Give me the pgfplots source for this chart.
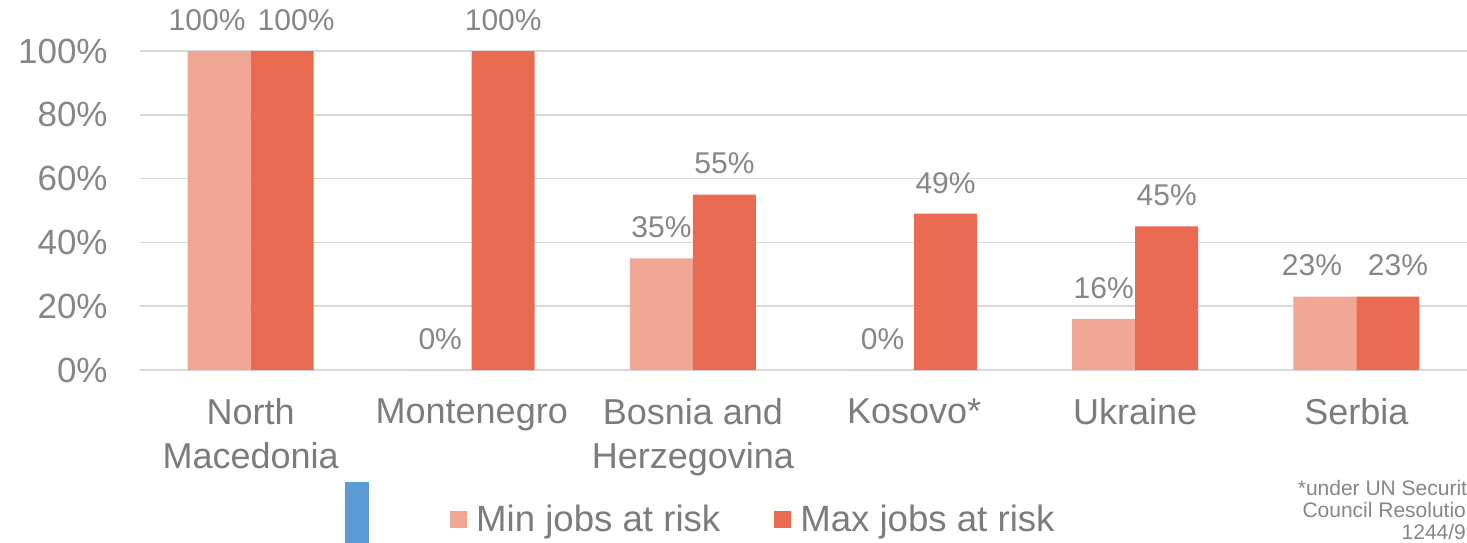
\documentclass[border=0pt]{standalone}
\usepackage{pgfplots}
\pgfplotsset{compat=1.18}
\usepackage{fontspec}
\setmainfont{Liberation Sans}
\definecolor{minc}{HTML}{F0A796}
\definecolor{maxc}{HTML}{E86B52}
\definecolor{gridc}{HTML}{D9D9D9}
\definecolor{txtc}{HTML}{868686}
\definecolor{catc}{HTML}{7C7C7C}
\definecolor{bluec}{HTML}{5B9BD5}
\begin{document}
\begin{tikzpicture}
\useasboundingbox (-70pt,-86pt) rectangle (663.5pt,185pt);
\begin{axis}[
  at={(0,0)}, anchor=south west,
  scale only axis,
  width=663.5pt, height=159.5pt,
  ybar=0pt, bar width=31.5pt,
  xmin=-0.5, xmax=5.5,
  ymin=0, ymax=100,
  clip=false,
  axis line style={draw=none},
  xtick=data,
  xticklabels={{North\\Macedonia},{Montenegro},{Bosnia and\\Herzegovina},{Kosovo*},{Ukraine},{Serbia}},
  xticklabel style={align=center, font=\fontsize{18}{22}\selectfont, text=catc, anchor=north, inner sep=0pt, yshift=-14pt},
  ytick={0,20,40,60,80,100},
  yticklabel={\pgfmathprintnumber{\tick}\%},
  /pgf/number format/assume math mode=true,
  yticklabel style={font=\fontsize{17.5}{20}\selectfont, text=txtc, anchor=east, inner sep=0pt, xshift=-16pt},
  major tick length=0pt,
  tick style={draw=none},
  ymajorgrids,
  grid style={gridc, line width=0.8pt},
  nodes near coords={\pgfmathprintnumber{\pgfplotspointmeta}\%},
  nodes near coords style={font=\fontsize{15}{17}\selectfont, text=txtc, inner sep=0pt, anchor=center, yshift=15.5pt},
  legend style={at={(0.463,-0.47)}, anchor=center, draw=none, fill=none,
    font=\fontsize{18.3}{20}\selectfont, text=catc, legend columns=2,
    /tikz/every even column/.append style={column sep=25pt}},
  legend image code/.code={\fill[#1] (0pt,-4.25pt) rectangle (8.5pt,4.25pt);\path (0pt,0pt) -- (11pt,0pt);},
]
\addplot[fill=minc, draw=none,
  coordinate style/.condition={x==0}{xshift=-6pt},
  coordinate style/.condition={x==5}{xshift=-6.5pt}]
  coordinates {(0,100) (1,0) (2,35) (3,0) (4,16) (5,23)};
\addplot[fill=maxc, draw=none,
  coordinate style/.condition={x==0}{xshift=7pt},
  coordinate style/.condition={x==5}{xshift=5pt}]
  coordinates {(0,100) (1,100) (2,55) (3,49) (4,45) (5,23)};
\legend{Min jobs at risk, Max jobs at risk}
\end{axis}
\fill[bluec] (102.5pt,-56pt) rectangle (114.5pt,-90pt);
\node[anchor=north east, align=right, font=\fontsize{10.5}{11}\selectfont, text=txtc, inner sep=0pt] at (669pt,-54.8pt) {*under UN Security\\Council Resolution\\1244/99};
\end{tikzpicture}
\end{document}
